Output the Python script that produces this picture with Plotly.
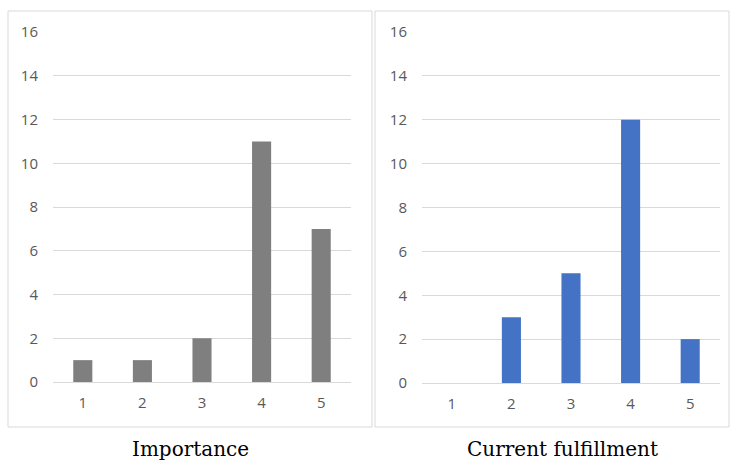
import plotly.graph_objects as go

# Survey ratings (1-5) and number of respondents per rating
ratings = ["1", "2", "3", "4", "5"]
importance_counts = [1, 1, 2, 11, 7]
fulfillment_counts = [0, 3, 5, 12, 2]
y_ticks = [0, 2, 4, 6, 8, 10, 12, 14, 16]
panel_titles = ["Importance", "Current fulfillment"]

W, H = 731, 461
grid_col = "#D9D9D9"
tick_font = dict(family="Open Sans, Noto Sans, sans-serif", size=15, color="#595959")

fig = go.Figure()
fig.add_trace(go.Bar(x=ratings, y=importance_counts, width=0.32,
                     marker=dict(color="#7F7F7F", line=dict(width=0)),
                     xaxis="x", yaxis="y", showlegend=False))
fig.add_trace(go.Bar(x=ratings, y=fulfillment_counts, width=0.32,
                     marker=dict(color="#4472C4", line=dict(width=0)),
                     xaxis="x2", yaxis="y2", showlegend=False))

def xaxis(domain, anchor):
    return dict(domain=domain, anchor=anchor, type="category",
                categoryorder="array", categoryarray=ratings,
                showgrid=False, zeroline=False, showline=False, ticks="",
                tickfont=tick_font, ticklabelstandoff=10, automargin=False,
                fixedrange=True)

def yaxis(domain, anchor):
    return dict(domain=domain, anchor=anchor, range=[0, 16],
                tickvals=y_ticks, showgrid=True, gridcolor=grid_col, gridwidth=1,
                zeroline=True, zerolinecolor=grid_col, zerolinewidth=1,
                showline=False, ticks="", tickfont=tick_font,
                ticklabelstandoff=14, automargin=False, fixedrange=True)

fig.update_layout(
    width=W, height=H,
    margin=dict(l=0, r=0, t=0, b=0),
    paper_bgcolor="white", plot_bgcolor="white",
    xaxis=xaxis([53 / W, 351 / W], "y"),
    yaxis=yaxis([79 / H, 429 / H], "x"),
    xaxis2=xaxis([422 / W, 720 / W], "y2"),
    yaxis2=yaxis([78 / H, 429 / H], "x2"),
)

# Chart frames around each panel
for x0, x1 in [(8, 372), (375, 729)]:
    fig.add_shape(type="rect", xref="paper", yref="paper",
                  x0=x0 / W, x1=x1 / W, y0=(H - 427) / H, y1=(H - 11) / H,
                  line=dict(color=grid_col, width=1), fillcolor="rgba(0,0,0,0)")

# Panel captions beneath the frames
for title, cx in zip(panel_titles, [190, 562]):
    fig.add_annotation(text=title, xref="paper", yref="paper",
                       x=cx / W, y=(H - 449) / H, xanchor="center", yanchor="middle",
                       showarrow=False,
                       font=dict(family="DejaVu Serif, Liberation Serif, serif",
                                 size=20, color="#000000"))

fig.write_html("out.html")
